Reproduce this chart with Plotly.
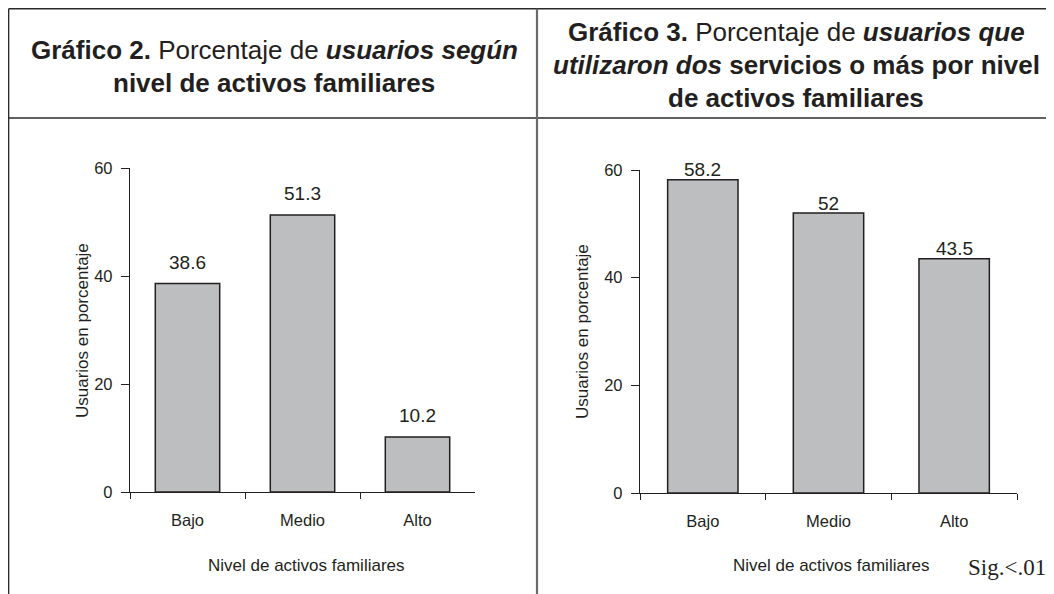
import plotly.graph_objects as go

# ---- data ----
categories = ["Bajo", "Medio", "Alto"]
g2_values = [38.6, 51.3, 10.2]
g3_values = [58.2, 52, 43.5]
y_ticks = [0, 20, 40, 60]

# page body adds an 8px offset; figure is sized so it ends at the window edge
OFF = 8
W, H = 1054 - OFF, 594 - OFF
def px(x):
    return (x - OFF) / W
def py(y):
    return 1 - (y - OFF) / H

INK = "#231f20"
BAR = "#bdbec0"
SANS = "Liberation Sans, Arial, Helvetica, sans-serif"
SERIF = "Liberation Serif, Times New Roman, serif"

fig = go.Figure()
fig.add_trace(go.Bar(x=categories, y=g2_values, marker=dict(color=BAR, line=dict(color=INK, width=1.5)),
                     xaxis="x", yaxis="y", showlegend=False, hoverinfo="skip"))
fig.add_trace(go.Bar(x=categories, y=g3_values, marker=dict(color=BAR, line=dict(color=INK, width=1.5)),
                     xaxis="x2", yaxis="y2", showlegend=False, hoverinfo="skip"))

xcommon = dict(type="category", showline=True, linecolor=INK, linewidth=1.3, ticks="outside",
               tickson="boundaries", ticklen=6, tickcolor=INK, tickwidth=1.3, showgrid=False,
               tickfont=dict(family=SANS, size=16.5, color=INK), ticklabelstandoff=13,
               automargin=False, fixedrange=True)
ycommon = dict(range=[0, 60], tickvals=y_ticks, showline=True, linecolor=INK, linewidth=1.3,
               ticks="outside", ticklen=8, tickcolor=INK, tickwidth=1.3, showgrid=False, zeroline=False,
               tickfont=dict(family=SANS, size=16.5, color=INK), ticklabelstandoff=5,
               automargin=False, fixedrange=True)

fig.update_layout(
    width=W, height=H, margin=dict(l=0, r=0, t=0, b=0, pad=0, autoexpand=False),
    paper_bgcolor="white", plot_bgcolor="white", bargap=0.44,
    xaxis=dict(domain=[px(130), px(475)], anchor="y", **xcommon),
    yaxis=dict(domain=[py(492), py(168)], anchor="x", **ycommon),
    xaxis2=dict(domain=[px(640), px(1017)], anchor="y2", **xcommon),
    yaxis2=dict(domain=[py(493), py(170)], anchor="x2", **ycommon),
)

# value labels
for xa, ya, vals, shift in (("x", "y", g2_values, 21), ("x2", "y2", g3_values, 10)):
    for c, v in zip(categories, vals):
        fig.add_annotation(x=c, y=v, xref=xa, yref=ya, text=f"{v:g}", showarrow=False,
                           yanchor="middle", yshift=shift, font=dict(family=SANS, size=19, color=INK))

# axis titles
for xc, yc in ((82, 331), (582, 332)):
    fig.add_annotation(x=px(xc), y=py(yc), xref="paper", yref="paper", text="Usuarios en porcentaje",
                       textangle=-90, showarrow=False, xanchor="center", yanchor="middle",
                       font=dict(family=SANS, size=17, color=INK))
for xc in (306, 831):
    fig.add_annotation(x=px(xc), y=py(565), xref="paper", yref="paper", text="Nivel de activos familiares",
                       showarrow=False, xanchor="center", yanchor="middle",
                       font=dict(family=SANS, size=17, color=INK))
fig.add_annotation(x=px(1007), y=py(567), xref="paper", yref="paper", text="Sig.&lt;.01",
                   showarrow=False, xanchor="center", yanchor="middle",
                   font=dict(family=SERIF, size=23, color=INK))

# chart titles
title_font = dict(family=SANS, size=26, color=INK)
left_lines = [("<b>Gráfico 2.</b> Porcentaje de <b><i>usuarios según</i></b>", 50),
              ("<b>nivel de activos familiares</b>", 83)]
right_lines = [("<b>Gráfico 3.</b> Porcentaje de <b><i>usuarios que</i></b>", 32),
               ("<b><i>utilizaron dos</i> servicios o más por nivel</b>", 65),
               ("<b>de activos familiares</b>", 98)]
for txt, yc in left_lines:
    fig.add_annotation(x=px(274), y=py(yc), xref="paper", yref="paper", text=txt, showarrow=False,
                       xanchor="center", yanchor="middle", font=title_font)
for txt, yc in right_lines:
    fig.add_annotation(x=px(796), y=py(yc), xref="paper", yref="paper", text=txt, showarrow=False,
                       xanchor="center", yanchor="middle", font=title_font)

# frame lines
line_dark = dict(color="#2b2b2b", width=1.5)
fig.add_shape(type="line", xref="paper", yref="paper", x0=px(8.6), x1=1, y0=py(8.8), y1=py(8.8), line=line_dark)
fig.add_shape(type="line", xref="paper", yref="paper", x0=px(8.6), x1=1, y0=py(118), y1=py(118), line=line_dark)
fig.add_shape(type="line", xref="paper", yref="paper", x0=px(8.6), x1=px(8.6), y0=py(8.8), y1=0, line=line_dark)
fig.add_shape(type="line", xref="paper", yref="paper", x0=px(537), x1=px(537), y0=py(8.8), y1=0,
              line=dict(color="#6a6a6a", width=2.2))

fig.write_html("out.html")
